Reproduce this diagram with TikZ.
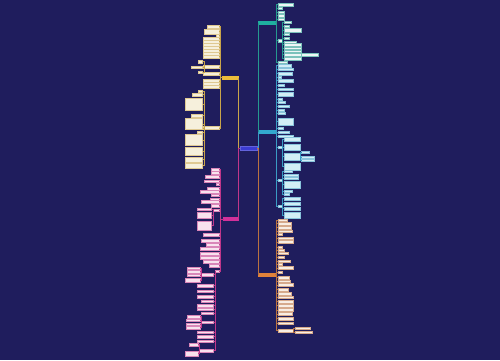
\documentclass[tikz,border=0pt]{standalone}
\definecolor{bg}{HTML}{1F1D5D}
\definecolor{cen}{HTML}{3C3CD2}
\definecolor{ymain}{HTML}{EDBE3A}
\definecolor{yline}{HTML}{C9A54A}
\definecolor{yfill}{HTML}{F6F0DC}
\definecolor{pmain}{HTML}{D2309A}
\definecolor{pline}{HTML}{C0368A}
\definecolor{pfill}{HTML}{F8E2EE}
\definecolor{tmain}{HTML}{1FB0A0}
\definecolor{tline}{HTML}{25998F}
\definecolor{tfill}{HTML}{EEF6F6}
\definecolor{cmain}{HTML}{33A9CF}
\definecolor{cline}{HTML}{3A9CC4}
\definecolor{cfill}{HTML}{D2EEF6}
\definecolor{omain}{HTML}{E0823A}
\definecolor{oline}{HTML}{BA7240}
\definecolor{ofill}{HTML}{F8EEE4}
\tikzset{
  base/.style={inner sep=0pt,outer sep=0pt,line width=0.25pt},
  centerbox/.style={base,fill=cen,draw=cen!80!white,minimum width=17pt,minimum height=4pt},
  mainbox/.style={base,minimum width=16pt,minimum height=3pt},
  ybox/.style={base,fill=yfill,draw=yline!60!white},
  pbox/.style={base,fill=pfill,draw=pline!60!white},
  tbox/.style={base,fill=tfill,draw=tline!60!white},
  cbox/.style={base,fill=cfill,draw=cline!60!white},
  obox/.style={base,fill=ofill,draw=oline!60!white},
  yl/.style={draw=yline,line width=0.5pt},
  pl/.style={draw=pline,line width=0.5pt},
  tl/.style={draw=tline,line width=0.5pt},
  cl/.style={draw=cline,line width=0.5pt},
  ol/.style={draw=oline,line width=0.5pt},
}
% parent, prefix, box style, line style, x of children edge, list y/w/h
\newcommand\rkids[6]{%
  \foreach \yy/\ww/\hh [count=\kk] in {#6}{%
    \node[#3,anchor=west,minimum width={\ww pt},minimum height={\hh pt}] (#2\kk) at (#5,\yy) {};
    \draw[#4] (#1.east) -| ([xshift=-1.5pt]#2\kk.west) -- (#2\kk.west);
  }}
\newcommand\lkids[6]{%
  \foreach \yy/\ww/\hh [count=\kk] in {#6}{%
    \node[#3,anchor=east,minimum width={\ww pt},minimum height={\hh pt}] (#2\kk) at (#5,\yy) {};
    \draw[#4] (#1.west) -| ([xshift=1.5pt]#2\kk.east) -- (#2\kk.east);
  }}
\begin{document}
\begin{tikzpicture}[x=1pt,y=-1pt]
\useasboundingbox (0,0) rectangle (500,360);
\fill[bg] (0,0) rectangle (500,360);

% main nodes
\node[centerbox] (C) at (248.5,148.5) {};
\node[mainbox,fill=ymain,draw=ymain] (Y) at (230,77.5) {};
\node[mainbox,fill=pmain,draw=pmain,minimum width=15pt] (P) at (230.5,219) {};
\node[mainbox,fill=tmain,draw=tmain,minimum width=17pt] (T1) at (266.5,22.5) {};
\node[mainbox,fill=cmain,draw=cmain,minimum width=17pt] (T2) at (266.5,131.5) {};
\node[mainbox,fill=omain,draw=omain,minimum width=17pt] (O) at (266.5,274.5) {};

\draw[draw=yline,line width=0.6pt] (C.west) -| (Y.east);
\draw[draw=pline,line width=0.6pt] (C.west) -| (P.east);
\draw[draw=tline,line width=0.6pt] (C.east) -| (T1.west);
\draw[draw=cline,line width=0.6pt] (C.east) -| (T2.west);
\draw[draw=oline,line width=0.6pt] (C.east) -| (O.west);

% ---------- yellow branch ----------
\lkids{Y}{ya}{ybox}{yl}{219}{26.7/12/3,31.5/15/5,35.7/3/2.5,38.5/16/3,41.7/16/3,44.5/16/3,47.5/16/3,50.7/16/3,53.5/16/3,56.7/16/3,74/16/3,81/16/3,84/16/3,87/16/3}
\node[ybox,anchor=east,minimum width=16pt,minimum height=3pt] (YS1) at (219,67) {};
\draw[yl] (Y.west) -| ([xshift=1.5pt]YS1.east) -- (YS1.east);
\lkids{YS1}{yb}{ybox}{yl}{202.5}{61.5/4/2.5,67/11/2.5,72/4/2.5}
\node[ybox,anchor=east,minimum width=16pt,minimum height=3pt] (YS2) at (219,128) {};
\draw[yl] (Y.west) -| ([xshift=1.5pt]YS2.east) -- (YS2.east);
\lkids{YS2}{yc}{ybox}{yl}{202.5}{91/4/2,94.5/10/3,104.5/17/12,115.5/11/3,124/17/11,132.5/5/2,140/17/11,151/17/8,159.5/17/5,165.5/17/5}

% ---------- pink branch ----------
\lkids{P}{pa}{pbox}{pl}{219}{169.5/8/2.5,172.5/8/2.5,176.5/14/2.5,181/15/2.5,184/3/2.5,188.5/12/2.5,191.5/19/2.5,195/8/2.5,199/9/2.5,201.5/18/2.5,205.5/8/2.5,235/16/3,240.5/18/3,244.5/13/3,249/19/3,253.5/19/3,258/19/3,262/16/3,265.5/10/2.5}
\node[pbox,anchor=east,minimum width=6pt,minimum height=2.5pt] (PS4) at (219,210) {};
\draw[pl] (P.west) -| ([xshift=1.5pt]PS4.east) -- (PS4.east);
\lkids{PS4}{pb}{pbox}{pl}{211.5}{209/14/2.5,215/14/6,225.5/14/9}
\node[pbox,anchor=east,minimum width=4pt,minimum height=2.5pt] (PS3) at (219,271) {};
\draw[pl] (P.west) -| ([xshift=1.5pt]PS3.east) -- (PS3.east);
\lkids{PS3}{pc}{pbox}{pl}{213.5}{285.5/16/3,291/16/2.5,296.5/16/3,301/12/2.5,305.5/16/3,309/16/2.5,313/12/2.5,332/16/2.5,336.5/16/3,341/16/2.5}
\node[pbox,anchor=east,minimum width=12pt,minimum height=2.5pt] (PS5) at (213.5,274.5) {};
\draw[pl] (PS3.west) -| ([xshift=1.5pt]PS5.east) -- (PS5.east);
\lkids{PS5}{pd}{pbox}{pl}{200}{268.5/13/2,271.5/13/2.5,275/13/2.5,280/15/4}
\node[pbox,anchor=east,minimum width=12pt,minimum height=2.5pt] (PS6) at (213.5,322) {};
\draw[pl] (PS3.west) -| ([xshift=1.5pt]PS6.east) -- (PS6.east);
\lkids{PS6}{pe}{pbox}{pl}{200}{316.5/13/2.5,320/14/2.5,324/14/2.5,327.5/14/2.5}
\node[pbox,anchor=east,minimum width=14pt,minimum height=2.5pt] (PS7) at (213.5,350.5) {};
\draw[pl] (PS3.west) -| ([xshift=1.5pt]PS7.east) -- (PS7.east);
\lkids{PS7}{pf}{pbox}{pl}{198}{344.5/9/2.5,353.5/13/5}

% ---------- teal branch ----------
\rkids{T1}{ta}{tbox}{tl}{278}{4.5/15/3,8.5/4/2,12/6/2,15.5/6/2.5,19/6/2,62.5/9/2}
\node[tbox,anchor=west,minimum width=4pt,minimum height=2.5pt] (TS8) at (278,40.5) {};
\draw[tl] (T1.east) -| ([xshift=-1.5pt]TS8.west) -- (TS8.west);
\rkids{TS8}{tb}{tbox}{tl}{284}{22.5/7/2,26/5/2,30/17/4,34/5/2,38/5/2,42/12/2.5,44.5/17/2.5,48/17/2.5,51/17/2.5,54.5/17/3,58.5/17/3}
\node[tbox,anchor=west,minimum width=17pt,minimum height=3pt] (TX) at (301,54.5) {};
\draw[tl] (tb10.east) -- (TX.west);

% ---------- cyan branch ----------
\rkids{T2}{ca}{cbox}{cl}{278}{65.5/13/2.5,69/15/2.5,73.5/14/2.5,77/3/2,80.5/15/3,85/6/2,89/15/2.5,94/15/4,99/4/2,102.5/7/2,106/11/2.5,110/6/2,113.5/7/2,121.5/15/7,128/5/2,132/11/2.5,136/15/2.5}
\node[cbox,anchor=west,minimum width=4pt,minimum height=2.5pt] (CS9) at (278,147) {};
\draw[cl] (T2.east) -| ([xshift=-1.5pt]CS9.west) -- (CS9.west);
\rkids{CS9}{cb}{cbox}{cl}{284}{139.5/16/4,147/16/6,156.5/16/7,166.5/16/7}
\rkids{cb3}{cc}{cbox}{cl}{301.5}{152.5/8/2,157/13/2,160.5/13/2}
\node[cbox,anchor=west,minimum width=4pt,minimum height=2.5pt] (CS10) at (278,180) {};
\draw[cl] (T2.east) -| ([xshift=-1.5pt]CS10.west) -- (CS10.west);
\rkids{CS10}{cd}{cbox}{cl}{284}{171/8/2,175/14/2,178.5/14/2,184.5/16/7,191/8/2,194.5/5/2}
\node[cbox,anchor=west,minimum width=4pt,minimum height=2.5pt] (CS11) at (278,206) {};
\draw[cl] (T2.east) -| ([xshift=-1.5pt]CS11.west) -- (CS11.west);
\rkids{CS11}{ce}{cbox}{cl}{284}{198.5/16/3,203.5/16/3,208.5/16/3,215/16/6}

% ---------- orange branch ----------
\rkids{O}{oa}{obox}{ol}{278}{220/9/2,223.5/13/2.5,227.5/13/2.5,231/14/2.5,234/4/2,238/15/2.5,242/15/3,247.5/4/2,250/6/2,253.5/10/2,257.5/6/2,261/12/2.5,264/4/2,268/15/3,272.5/4/2,277.5/11/2.5,281/12/2.5,285/15/3,289.5/10/2.5,293.5/13/2.5,297/15/2.5,301.5/15/3,305.5/15/3,310/15/3,314/14/3,318.5/15/2.5,323/15/2.5}
\node[obox,anchor=west,minimum width=15pt,minimum height=2.5pt] (OS12) at (278,330.5) {};
\draw[ol] (O.east) -| ([xshift=-1.5pt]OS12.west) -- (OS12.west);
\rkids{OS12}{ob}{obox}{ol}{295}{328/15/2.5,332/17/2.5}
\end{tikzpicture}
\end{document}
